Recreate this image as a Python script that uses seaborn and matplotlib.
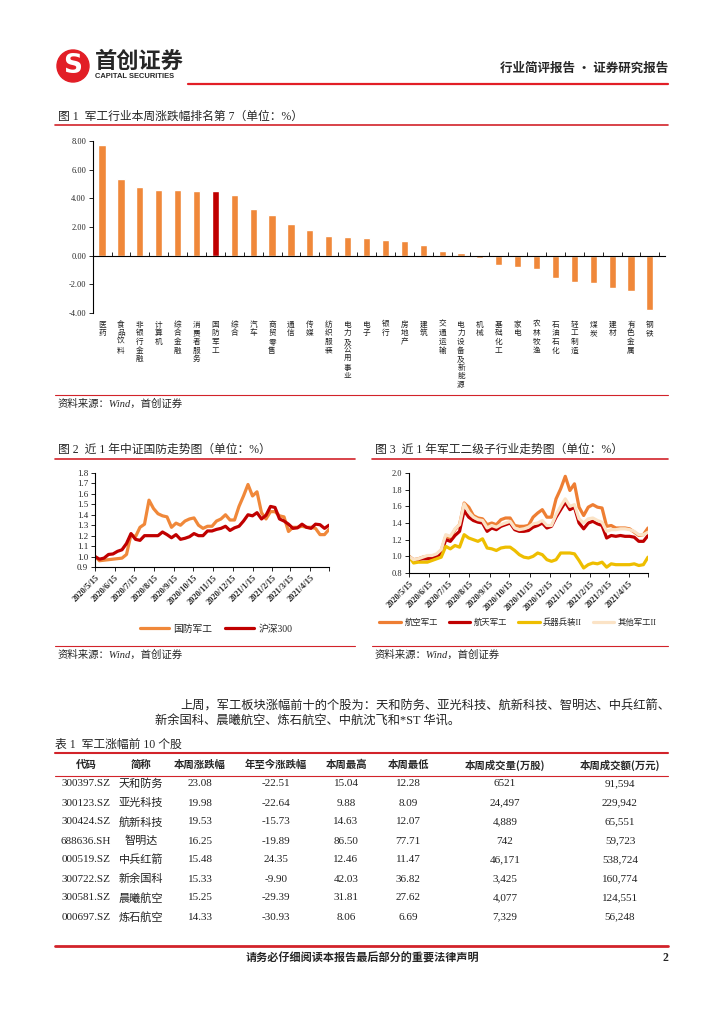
import numpy as np
import pandas as pd
import matplotlib
matplotlib.use('Agg')
import matplotlib.pyplot as plt
import seaborn as sns
from matplotlib.lines import Line2D
from matplotlib.patches import Ellipse
from matplotlib.transforms import blended_transform_factory

sns.set_theme(style='white')
plt.rcParams['font.family'] = ['Liberation Serif', 'Noto Sans CJK SC']
plt.rcParams['axes.unicode_minus'] = False

# ---- data ----
industries = ['医药', '食品饮料', '非银行金融', '计算机', '综合金融', '消费者服务', '国防军工',
              '综合', '汽车', '商贸零售', '通信', '传媒', '纺织服装', '电力及公用事业', '电子',
              '银行', '房地产', '建筑', '交通运输', '电力设备及新能源', '机械', '基础化工',
              '家电', '农林牧渔', '石油石化', '轻工制造', '煤炭', '建材', '有色金属', '钢铁']
weekly_chg = [7.74, 5.36, 4.80, 4.61, 4.60, 4.54, 4.49, 4.26, 3.23, 2.85, 2.21, 1.81, 1.35,
              1.30, 1.26, 1.09, 1.05, 0.77, 0.35, 0.19, -0.14, -0.65, -0.77, -0.91, -1.58,
              -1.84, -1.91, -2.28, -2.44, -3.77]

dates = pd.date_range('2020-05-15', periods=53, freq='7D')
defense = [1.00, 0.96, 0.965, 0.97, 0.975, 0.98, 0.985, 1.02, 1.21, 1.19,
           1.28, 1.31, 1.54, 1.46, 1.41, 1.39, 1.38, 1.28, 1.32, 1.30,
           1.34, 1.36, 1.37, 1.30, 1.27, 1.29, 1.29, 1.34, 1.36, 1.40,
           1.35, 1.35, 1.48, 1.58, 1.69, 1.58, 1.62, 1.42, 1.36, 1.43,
           1.43, 1.39, 1.38, 1.24, 1.28, 1.28, 1.29, 1.28, 1.28, 1.27,
           1.21, 1.21, 1.26]
hs300 = [1.00, 0.975, 0.985, 1.02, 1.025, 1.05, 1.065, 1.125, 1.22, 1.165,
         1.155, 1.20, 1.20, 1.20, 1.20, 1.235, 1.21, 1.18, 1.21, 1.165,
         1.175, 1.19, 1.22, 1.20, 1.20, 1.245, 1.245, 1.26, 1.27, 1.29,
         1.25, 1.275, 1.29, 1.34, 1.40, 1.39, 1.42, 1.36, 1.395, 1.48,
         1.47, 1.36, 1.34, 1.31, 1.27, 1.275, 1.31, 1.28, 1.27, 1.31,
         1.305, 1.27, 1.30]

aviation = [1.00, 0.96, 0.97, 0.99, 1.00, 1.00, 1.02, 1.07,
            1.24, 1.22, 1.32, 1.38, 1.64, 1.59, 1.49, 1.46, 1.45, 1.38,
            1.40, 1.38, 1.44, 1.46, 1.46, 1.37, 1.36, 1.36, 1.37, 1.47,
            1.52, 1.56, 1.47, 1.47, 1.69, 1.81, 1.96, 1.79, 1.87, 1.59,
            1.49, 1.59, 1.62, 1.59, 1.58, 1.36, 1.37, 1.34, 1.34, 1.34,
            1.33, 1.29, 1.25, 1.26, 1.34]
aerospace = [1.00, 0.95, 0.96, 0.97, 0.97, 0.98, 1.00, 1.03,
             1.20, 1.18, 1.25, 1.30, 1.55, 1.47, 1.43, 1.41, 1.40, 1.30,
             1.34, 1.32, 1.36, 1.38, 1.40, 1.32, 1.30, 1.30, 1.31, 1.35,
             1.37, 1.40, 1.34, 1.36, 1.47, 1.56, 1.65, 1.56, 1.59, 1.40,
             1.33, 1.40, 1.42, 1.39, 1.37, 1.22, 1.25, 1.24, 1.25, 1.24,
             1.24, 1.23, 1.18, 1.18, 1.25]
weapons = [1.00, 0.92, 0.93, 0.93, 0.93, 0.95, 0.97, 0.99, 1.12, 1.09,
           1.13, 1.11, 1.26, 1.22, 1.20, 1.18, 1.21, 1.10, 1.09, 1.07,
           1.10, 1.11, 1.11, 1.07, 1.02, 0.99, 0.98, 1.00, 1.04, 1.02,
           0.96, 0.94, 0.96, 1.04, 1.04, 1.04, 1.03, 0.95, 0.86, 0.90,
           0.92, 0.91, 0.93, 0.87, 0.91, 0.90, 0.90, 0.90, 0.90, 0.91,
           0.89, 0.90, 0.99]
others = [1.00, 0.96, 0.97, 0.99, 1.01, 1.01, 1.03, 1.08, 1.26, 1.24,
          1.33, 1.38, 1.63, 1.53, 1.47, 1.44, 1.43, 1.34, 1.37, 1.35,
          1.38, 1.40, 1.42, 1.34, 1.32, 1.33, 1.35, 1.39, 1.40, 1.43,
          1.37, 1.37, 1.50, 1.60, 1.69, 1.60, 1.62, 1.45, 1.40, 1.45,
          1.46, 1.43, 1.41, 1.30, 1.32, 1.32, 1.33, 1.33, 1.32, 1.30,
          1.26, 1.26, 1.29]

month_ticks = pd.date_range('2020-05-15', periods=12, freq=pd.DateOffset(months=1))
month_labels = ['2020/5/15', '2020/6/15', '2020/7/15', '2020/8/15', '2020/9/15', '2020/10/15',
                '2020/11/15', '2020/12/15', '2021/1/15', '2021/2/15', '2021/3/15', '2021/4/15']

table_cols = ['代码', '简称', '本周涨跌幅', '年至今涨跌幅', '本周最高', '本周最低',
              '本周成交量(万股)', '本周成交额(万元)']
codes = ['300397.SZ', '300123.SZ', '300424.SZ', '688636.SH', '000519.SZ', '300722.SZ',
         '300581.SZ', '000697.SZ']
names = ['天和防务', '亚光科技', '航新科技', '智明达', '中兵红箭', '新余国科', '晨曦航空', '炼石航空']
chg_week = ['23.08', '19.98', '19.53', '16.25', '15.48', '15.33', '15.25', '14.33']
chg_ytd = ['-22.51', '-22.64', '-15.73', '-19.89', '24.35', '-9.90', '-29.39', '-30.93']
week_high = ['15.04', '9.88', '14.63', '86.50', '12.46', '42.03', '31.81', '8.06']
week_low = ['12.28', '8.09', '12.07', '77.71', '11.47', '36.82', '27.62', '6.69']
volume = ['6521', '24,497', '4,889', '742', '46,171', '3,425', '4,077', '7,329']
amount = ['91,594', '229,942', '65,551', '59,723', '538,724', '160,774', '124,551', '56,248']

RED = '#D2232A'
ORANGE = '#F0883A'
DARKRED = '#C00000'
CJK = ['Noto Sans CJK SC', 'DejaVu Sans']
SERIF = ['Liberation Serif', 'Noto Sans CJK SC']

W, H = 724, 1024
fig = plt.figure(figsize=(7.24, 10.24), dpi=100)


def fx(x):
    return x / W


def fy(y):
    return 1 - y / H


def hline(x0, x1, y, lw=1.0, color=RED):
    fig.add_artist(Line2D([fx(x0), fx(x1)], [fy(y), fy(y)], color=color, lw=lw,
                          transform=fig.transFigure))


def txt(x, y, s, **kw):
    kw.setdefault('va', 'center')
    fig.text(fx(x), fy(y), s, **kw)


def add_ax(l, t, r, b):
    return fig.add_axes([fx(l), fy(b), fx(r) - fx(l), (b - t) / H])


# ---- header ----
fig.add_artist(Ellipse((fx(73), fy(66)), 32 / W, 32 / H, color='#E21E26',
                       transform=fig.transFigure))
txt(73, 66, 'S', color='white', fontsize=19, weight='bold', family='DejaVu Sans', ha='center')
txt(95, 61, '首创证券', fontsize=16, weight='bold', family=CJK, ha='left')
txt(95, 77, 'CAPITAL SECURITIES', fontsize=5.4, weight='bold', family='Liberation Sans', ha='left')
hline(188, 668, 84, lw=1.6, color='#E21E26')
txt(668, 68, '行业简评报告 · 证券研究报告', fontsize=9, weight='bold', family=CJK, ha='right')

# ---- figure 1: bar chart ----
txt(58, 117, '图 1  军工行业本周涨跌幅排名第 7（单位：%）', fontsize=8.5, ha='left')
hline(55, 668, 125, lw=1.2)

ax1 = add_ax(93, 141, 665, 313)
bar_colors = [DARKRED if c == '国防军工' else ORANGE for c in industries]
sns.barplot(x=industries, y=weekly_chg, hue=industries, palette=bar_colors, width=0.38,
            saturation=1, legend=False, ax=ax1)
ax1.set_xlim(-0.48, 29.8)
ax1.set_ylim(-4, 8)
yt = np.arange(-4, 8.1, 2)
ax1.set_yticks(yt)
ax1.set_yticklabels([f'{v:.2f}' for v in yt], fontsize=6)
ax1.set_xticks(np.arange(0.5, 29.6, 1))
ax1.set_xticklabels([])
ax1.tick_params(axis='x', direction='in', length=3, width=0.6, color='black', bottom=True)
ax1.tick_params(axis='y', direction='out', length=3, width=0.6, color='black', left=True, pad=2)
for s in ['top', 'right']:
    ax1.spines[s].set_visible(False)
ax1.spines['bottom'].set_position(('data', 0))
for s in ['left', 'bottom']:
    ax1.spines[s].set_color('black')
    ax1.spines[s].set_linewidth(0.8)
ax1.set_xlabel('')
ax1.set_ylabel('')
trans = blended_transform_factory(ax1.transData, ax1.transAxes)
for i, c in enumerate(industries):
    ax1.text(i, -0.045, '\n'.join(c), transform=trans, ha='center', va='top', fontsize=5.5,
             linespacing=1.1, family=CJK, color='#222222')

hline(55, 668, 395, lw=0.8)
txt(58, 404, '资料来源：Wind，首创证券', fontsize=7.5, style='italic', ha='left')

# ---- figure 2 ----
txt(58, 450, '图 2  近 1 年中证国防走势图（单位：%）', fontsize=8.5, ha='left')
hline(55, 355, 459, lw=1.2)
ax2 = add_ax(95, 473, 329, 567)
sns.lineplot(x=dates, y=defense, color=ORANGE, lw=2.3, label='国防军工', ax=ax2)
sns.lineplot(x=dates, y=hs300, color=DARKRED, lw=2.3, label='沪深300', ax=ax2)
ax2.set_ylim(0.9, 1.8)
yt2 = np.round(np.arange(0.9, 1.81, 0.1), 1)
ax2.set_yticks(yt2)
ax2.set_yticklabels([f'{v:.1f}' for v in yt2], fontsize=6.5)


def style_date_axis(ax):
    ax.set_xlim(dates[0], dates[-1])
    ax.set_xticks(list(month_ticks) + [dates[-1]])
    ax.set_xticklabels(month_labels + [''], rotation=45, ha='right', rotation_mode='anchor',
                       fontsize=6, weight='bold')
    ax.tick_params(axis='both', direction='out', length=3, width=0.6, color='black',
                   bottom=True, left=True, pad=2)
    for s in ['top', 'right']:
        ax.spines[s].set_visible(False)
    for s in ['left', 'bottom']:
        ax.spines[s].set_color('black')
        ax.spines[s].set_linewidth(0.8)
    ax.set_xlabel('')
    ax.set_ylabel('')


style_date_axis(ax2)
ax2.legend(loc='center', bbox_to_anchor=(fx(216), fy(629)), bbox_transform=fig.transFigure,
           ncol=2, frameon=False, handlelength=3.0, columnspacing=1.4,
           handletextpad=0.4, prop={'family': SERIF, 'size': 7})
hline(55, 355, 646, lw=0.8)
txt(58, 655, '资料来源：Wind，首创证券', fontsize=7.5, style='italic', ha='left')

# ---- figure 3 ----
txt(375, 450, '图 3  近 1 年军工二级子行业走势图（单位：%）', fontsize=8.5, ha='left')
hline(372, 668, 459, lw=1.2)
ax3 = add_ax(409, 473, 648, 573)
sns.lineplot(x=dates, y=aviation, color='#EE7E33', lw=2.3, label='航空军工', ax=ax3)
sns.lineplot(x=dates, y=aerospace, color=DARKRED, lw=2.3, label='航天军工', ax=ax3)
sns.lineplot(x=dates, y=weapons, color='#EEBE00', lw=2.3, label='兵器兵装II', ax=ax3)
sns.lineplot(x=dates, y=others, color='#FBE3C6', lw=2.3, label='其他军工II', ax=ax3)
ax3.set_ylim(0.8, 2.0)
yt3 = np.round(np.arange(0.8, 2.01, 0.2), 1)
ax3.set_yticks(yt3)
ax3.set_yticklabels([f'{v:.1f}' for v in yt3], fontsize=6)
style_date_axis(ax3)
ax3.legend(loc='center', bbox_to_anchor=(fx(518), fy(623)), bbox_transform=fig.transFigure,
           ncol=4, frameon=False, handlelength=2.6, columnspacing=1.3,
           handletextpad=0.4, prop={'family': SERIF, 'size': 6})
hline(372, 668, 646, lw=0.8)
txt(375, 655, '资料来源：Wind，首创证券', fontsize=7.5, style='italic', ha='left')

# ---- paragraph ----
txt(180, 706, '上周，军工板块涨幅前十的个股为：天和防务、亚光科技、航新科技、智明达、中兵红箭、',
    fontsize=8.8, ha='left', color='#222222')
txt(155, 722, '新余国科、晨曦航空、炼石航空、中航沈飞和*ST 华讯。', fontsize=8.8, ha='left',
    color='#222222')

# ---- table ----
txt(55, 745, '表 1  军工涨幅前 10 个股', fontsize=8.5, ha='left')
hline(55, 668, 753, lw=1.5)
col_x = [86, 141, 200, 276, 346, 408, 505, 620]
for x, c in zip(col_x, table_cols):
    txt(x, 765, c, fontsize=7.5, weight='bold', family=CJK, ha='center')
hline(55, 668, 776, lw=0.8)
rows = list(zip(codes, names, chg_week, chg_ytd, week_high, week_low, volume, amount))
for r, row in enumerate(rows):
    y = 784 + r * 19
    for x, v in zip(col_x, row):
        txt(x, y, v, fontsize=8, family=SERIF, ha='center', color='#222222')

# ---- footer ----
hline(55, 668, 946, lw=2.0)
txt(362, 958, '请务必仔细阅读本报告最后部分的重要法律声明', fontsize=8, weight='bold', family=CJK,
    ha='center')
txt(668, 958, '2', fontsize=8.5, weight='bold', ha='right')

fig.savefig('out.png', dpi=100)
